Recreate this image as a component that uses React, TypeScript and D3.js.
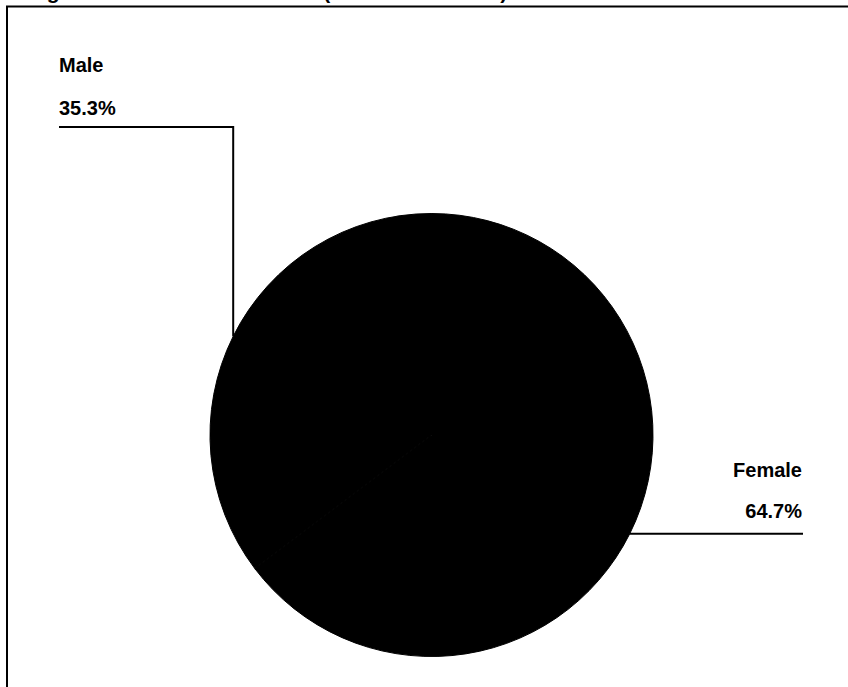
import React from "react";
import * as d3 from "d3";

const categories = ["Male", "Female"];
const values = [35.3, 64.7];
const valueLabels = ["35.3%", "64.7%"];
const titleText = "Figure 3: Gender of Students (Total Enrolments)";

const W = 848;
const H = 687;
const FONT = "'Liberation Sans', Arial, Helvetica, sans-serif";

export default function App() {
  const cx = 431.5;
  const cy = 435;
  const r = 221.5;
  const maleShare = values[0] / d3.sum(values);
  const pie = d3
    .pie<number>()
    .sort(null)
    .value((d) => d)
    .startAngle(-2 * Math.PI * maleShare)
    .endAngle(2 * Math.PI - 2 * Math.PI * maleShare);
  const arcs = pie(values);
  const arc = d3.arc<d3.PieArcDatum<number>>().innerRadius(0).outerRadius(r);
  const edge = d3.arc<d3.PieArcDatum<number>>().innerRadius(r).outerRadius(r);

  const maleEdge = edge.centroid(arcs[0]);
  const femaleEdge = edge.centroid(arcs[1]);

  const maleLabelX = 59;
  const maleLineY = 127;
  const femaleRightX = 803;

  return (
    <svg
      width={W}
      height={H}
      style={{ position: "absolute", left: 0, top: 0, display: "block", background: "#fff" }}
    >
      <rect x={0} y={0} width={W} height={H} fill="#fff" />
      <text x={28} y={-1.5} fontFamily={FONT} fontWeight="bold" fontSize={21} fill="#000">
        {titleText}
      </text>
      <rect x={7} y={6.5} width={W + 20} height={H + 20} fill="none" stroke="#000" strokeWidth={2} />
      <g transform={`translate(${cx},${cy})`}>
        {arcs.map((a, i) => (
          <path key={categories[i]} d={arc(a) || ""} fill="#000" stroke="#000" strokeWidth={1} />
        ))}
      </g>
      <polyline
        points={`${cx + maleEdge[0]},${cy + maleEdge[1]} ${cx + maleEdge[0]},${maleLineY} ${maleLabelX},${maleLineY}`}
        fill="none"
        stroke="#000"
        strokeWidth={2}
      />
      <text x={maleLabelX} y={72} fontFamily={FONT} fontWeight="bold" fontSize={20} fill="#000">
        {categories[0]}
      </text>
      <text x={maleLabelX} y={115} fontFamily={FONT} fontWeight="bold" fontSize={20} fill="#000">
        {valueLabels[0]}
      </text>
      <line
        x1={cx + femaleEdge[0]}
        y1={cy + femaleEdge[1]}
        x2={femaleRightX}
        y2={cy + femaleEdge[1]}
        stroke="#000"
        strokeWidth={2}
      />
      <text x={femaleRightX - 1} y={477} textAnchor="end" fontFamily={FONT} fontWeight="bold" fontSize={20} fill="#000">
        {categories[1]}
      </text>
      <text x={femaleRightX - 1} y={518} textAnchor="end" fontFamily={FONT} fontWeight="bold" fontSize={20} fill="#000">
        {valueLabels[1]}
      </text>
    </svg>
  );
}
